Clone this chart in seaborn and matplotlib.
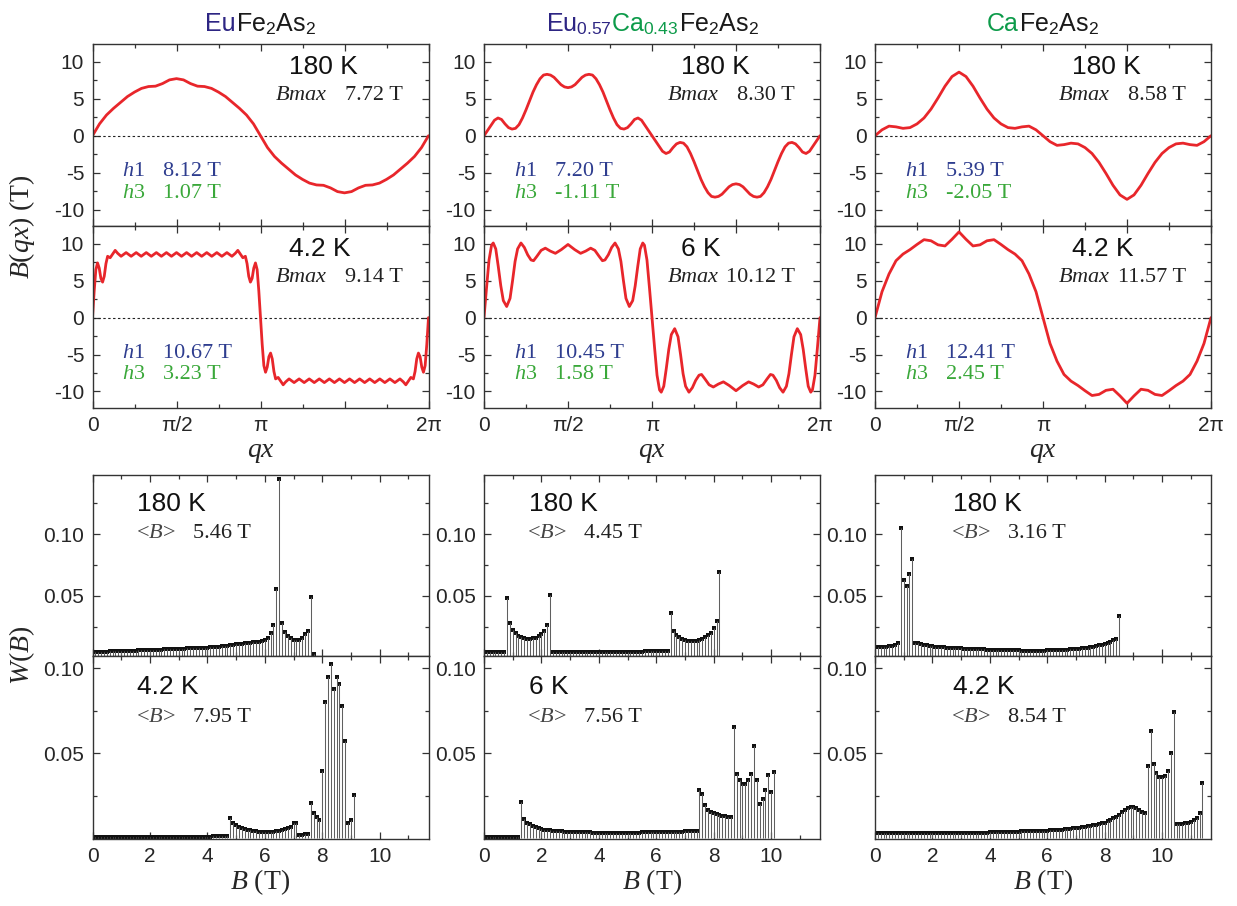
import numpy as np
import matplotlib
matplotlib.use('Agg')
import matplotlib.pyplot as plt
import seaborn as sns
from matplotlib.offsetbox import TextArea, HPacker, AnchoredOffsetbox

# ---------------- data ----------------
# field profiles B(qx), qx in units of pi
qx_24 = np.arange(49) / 24
qx_48 = np.arange(97) / 48
qx_eu_4k_half = [0, .01, .02, .03, .04, .05, .06, .07, .08, .09, .105, .12, .135, .15, .17,
                 .20, .23, .26, .29, .32, .35, .38, .41, .44, .47, .50, .53, .56, .59, .62,
                 .65, .68, .71, .74, .77, .80, .83, .85, .865, .88, .895, .91, .92, .93, .94,
                 .95, .96, .97, .98, .99, 1.0]
qx_mix_6k_half = [0, .015, .03, .045, .055, .07, .085, .10, .115, .135, .155, .17, .185, .20,
                  .22, .24, .26, .28, .295, .315, .34, .365, .395, .425, .46, .50, .54, .575,
                  .605, .635, .66, .685, .705, .72, .74, .76, .78, .80, .815, .83, .845, .865,
                  .885, .90, .915, .93, .945, .955, .97, .985, 1.0]

b_eu_180 = [0.0, 1.6, 2.8, 3.7, 4.5, 5.3, 5.9, 6.4, 6.65, 6.7, 7.05, 7.55, 7.72, 7.55, 7.05,
            6.7, 6.65, 6.4, 5.9, 5.3, 4.5, 3.7, 2.8, 1.6, 0.0, -1.6, -2.8, -3.7, -4.5, -5.3,
            -5.9, -6.4, -6.65, -6.7, -7.05, -7.55, -7.72, -7.55, -7.05, -6.7, -6.65, -6.4,
            -5.9, -5.3, -4.5, -3.7, -2.8, -1.6, 0.0]
b_eu_4k = [0.0, 3.6, 6.5, 7.4, 6.7, 5.3, 4.8, 5.6, 7.3, 8.3, 8.1, 8.6, 9.1, 8.7,
           8.3, 8.8, 8.3, 8.8, 8.3, 8.8, 8.3, 8.8, 8.3, 8.8, 8.3, 8.8, 8.3, 8.8, 8.3, 8.8,
           8.3, 8.8, 8.3, 8.8, 8.3, 8.8, 8.3,
           8.7, 9.1, 8.6, 8.1, 8.3, 7.3, 5.6, 4.8, 5.3, 6.7, 7.4, 6.5, 3.6, 0.0,
           -3.6, -6.5, -7.4, -6.7, -5.3, -4.8, -5.6, -7.3, -8.3, -8.1, -8.6, -9.1, -8.7,
           -8.3, -8.8, -8.3, -8.8, -8.3, -8.8, -8.3, -8.8, -8.3, -8.8, -8.3, -8.8, -8.3,
           -8.8, -8.3, -8.8, -8.3, -8.8, -8.3, -8.8, -8.3, -8.8, -8.3,
           -8.7, -9.1, -8.6, -8.1, -8.3, -7.3, -5.6, -4.8, -5.3, -6.7, -7.4, -6.5, -3.6, 0.0]
b_mix_180 = [0.0, 0.7, 1.4, 2.1, 2.4, 2.2, 1.6, 1.1, 0.9, 1.0, 1.5, 2.4, 3.5, 4.7, 5.9, 6.9,
             7.7, 8.2, 8.3, 8.2, 7.9, 7.4, 6.9, 6.6, 6.5, 6.6, 6.9, 7.4, 7.9, 8.2, 8.3, 8.2,
             7.7, 6.9, 5.9, 4.7, 3.5, 2.4, 1.5, 1.0, 0.9, 1.1, 1.6, 2.2, 2.4, 2.1, 1.4, 0.7,
             0.0, -0.7, -1.4, -2.1, -2.4, -2.2, -1.6, -1.1, -0.9, -1.0, -1.5, -2.4, -3.5,
             -4.7, -5.9, -6.9, -7.7, -8.2, -8.3, -8.2, -7.9, -7.4, -6.9, -6.6, -6.5, -6.6,
             -6.9, -7.4, -7.9, -8.2, -8.3, -8.2, -7.7, -6.9, -5.9, -4.7, -3.5, -2.4, -1.5,
             -1.0, -0.9, -1.1, -1.6, -2.2, -2.4, -2.1, -1.4, -0.7, 0.0]
b_mix_6k = [0.0, 4.0, 7.8, 9.8, 10.1, 9.3, 6.9, 4.3, 2.3, 1.5, 2.6, 5.0, 7.6, 9.3, 10.1, 9.5,
            8.5, 7.8, 7.7, 8.3, 9.1, 9.4, 9.0, 8.7, 9.2, 9.9, 9.2, 8.7, 9.0, 9.4, 9.1, 8.3,
            7.7, 7.8, 8.5, 9.5, 10.1, 9.3, 7.6, 5.0, 2.6, 1.5, 2.3, 4.3, 6.9, 9.3, 10.1, 9.8,
            7.8, 4.0, 0.0,
            -4.0, -7.8, -9.8, -10.1, -9.3, -6.9, -4.3, -2.3, -1.5, -2.6, -5.0, -7.6, -9.3,
            -10.1, -9.5, -8.5, -7.8, -7.7, -8.3, -9.1, -9.4, -9.0, -8.7, -9.2, -9.9, -9.2,
            -8.7, -9.0, -9.4, -9.1, -8.3, -7.7, -7.8, -8.5, -9.5, -10.1, -9.3, -7.6, -5.0,
            -2.6, -1.5, -2.3, -4.3, -6.9, -9.3, -10.1, -9.8, -7.8, -4.0, 0.0]
b_ca_180 = [0.0, 0.8, 1.3, 1.2, 1.0, 1.1, 1.6, 2.4, 3.6, 5.1, 6.7, 8.0, 8.6, 8.0, 6.7, 5.1,
            3.6, 2.4, 1.6, 1.1, 1.0, 1.2, 1.3, 0.8, 0.0, -0.8, -1.3, -1.2, -1.0, -1.1, -1.6,
            -2.4, -3.6, -5.1, -6.7, -8.0, -8.6, -8.0, -6.7, -5.1, -3.6, -2.4, -1.6, -1.1,
            -1.0, -1.2, -1.3, -0.8, 0.0]
b_ca_4k = [0.0, 3.5, 5.9, 7.7, 8.6, 9.2, 9.9, 10.55, 10.4, 9.85, 9.7, 10.6, 11.6, 10.6, 9.7,
           9.85, 10.4, 10.55, 9.9, 9.2, 8.6, 7.7, 5.9, 3.5, 0.0, -3.5, -5.9, -7.7, -8.6,
           -9.2, -9.9, -10.55, -10.4, -9.85, -9.7, -10.6, -11.6, -10.6, -9.7, -9.85, -10.4,
           -10.55, -9.9, -9.2, -8.6, -7.7, -5.9, -3.5, 0.0]

# field distributions W(B), bins of 0.1 T starting at 0
w_eu_180 = [0.0048, 0.0049, 0.0050, 0.0051, 0.0051, 0.0052, 0.0053, 0.0054, 0.0055, 0.0055,
            0.0056, 0.0057, 0.0058, 0.0059, 0.0060, 0.0060, 0.0061, 0.0062, 0.0063, 0.0064,
            0.0065, 0.0066, 0.0067, 0.0067, 0.0068, 0.0069, 0.0070, 0.0071, 0.0072, 0.0073,
            0.0074, 0.0075, 0.0076, 0.0077, 0.0078, 0.0079, 0.0080, 0.0081, 0.0082, 0.0083,
            0.0084, 0.0086, 0.0088, 0.0090, 0.0092, 0.0094, 0.0097, 0.0100, 0.0103, 0.0106,
            0.0109, 0.0112, 0.0115, 0.0117, 0.0120, 0.0123, 0.0126, 0.0129, 0.0132, 0.0138,
            0.0148, 0.0163, 0.0200, 0.0265, 0.0556, 0.1440, 0.0280, 0.0210, 0.0175, 0.0158,
            0.0148, 0.0142, 0.0145, 0.0160, 0.0190, 0.0220, 0.0495, 0.0035]
w_eu_4k = [0.0008, 0.0008, 0.0008, 0.0008, 0.0008, 0.0008, 0.0008, 0.0008, 0.0008, 0.0008,
           0.0008, 0.0008, 0.0008, 0.0008, 0.0008, 0.0008, 0.0008, 0.0008, 0.0008, 0.0008,
           0.0008, 0.0008, 0.0008, 0.0008, 0.0008, 0.0008, 0.0008, 0.0008, 0.0008, 0.0008,
           0.0009, 0.0009, 0.0009, 0.0009, 0.0009, 0.0009, 0.0009, 0.0009, 0.0009, 0.0009,
           0.0010, 0.0010, 0.0011, 0.0011, 0.0012, 0.0012, 0.0013, 0.0013, 0.0118, 0.0093,
           0.0076, 0.0066, 0.0060, 0.0055, 0.0051, 0.0047, 0.0044, 0.0042, 0.0040, 0.0039,
           0.0038, 0.0038, 0.0039, 0.0040, 0.0042, 0.0044, 0.0047, 0.0052, 0.0058, 0.0068,
           0.0093, 0.0090, 0.0022, 0.0022, 0.0023, 0.0023, 0.0206, 0.0150, 0.0125, 0.0110,
           0.0398, 0.0800, 0.0950, 0.1025, 0.0880, 0.0950, 0.0910, 0.0780, 0.0570, 0.0093,
           0.0110, 0.0255]
w_mix_180 = [0.0048, 0.0048, 0.0048, 0.0048, 0.0048, 0.0048, 0.0048, 0.0048, 0.0480, 0.0280,
             0.0225, 0.0198, 0.0180, 0.0168, 0.0160, 0.0156, 0.0155, 0.0158, 0.0165, 0.0178,
             0.0195, 0.0218, 0.0266, 0.0510, 0.0049, 0.0049, 0.0049, 0.0049, 0.0049, 0.0049,
             0.0049, 0.0049, 0.0049, 0.0049, 0.0049, 0.0049, 0.0049, 0.0049, 0.0049, 0.0049,
             0.0049, 0.0049, 0.0049, 0.0049, 0.0049, 0.0050, 0.0050, 0.0050, 0.0050, 0.0050,
             0.0050, 0.0050, 0.0051, 0.0051, 0.0052, 0.0052, 0.0053, 0.0054, 0.0055, 0.0056,
             0.0056, 0.0057, 0.0057, 0.0058, 0.0058, 0.0360, 0.0215, 0.0188, 0.0170, 0.0155,
             0.0145, 0.0140, 0.0137, 0.0137, 0.0140, 0.0145, 0.0155, 0.0168, 0.0185, 0.0200,
             0.0240, 0.0300, 0.0695]
w_mix_6k = [0.0006, 0.0006, 0.0006, 0.0006, 0.0006, 0.0006, 0.0006, 0.0006, 0.0006, 0.0006,
            0.0006, 0.0006, 0.0006, 0.0212, 0.0114, 0.0093, 0.0082, 0.0073, 0.0066, 0.0060,
            0.0055, 0.0051, 0.0048, 0.0046, 0.0044, 0.0043, 0.0042, 0.0041, 0.0040, 0.0039,
            0.0038, 0.0037, 0.0037, 0.0036, 0.0036, 0.0035, 0.0035, 0.0035, 0.0034, 0.0034,
            0.0034, 0.0034, 0.0034, 0.0034, 0.0034, 0.0034, 0.0034, 0.0034, 0.0034, 0.0034,
            0.0034, 0.0034, 0.0034, 0.0034, 0.0034, 0.0035, 0.0035, 0.0035, 0.0035, 0.0036,
            0.0036, 0.0036, 0.0037, 0.0037, 0.0038, 0.0038, 0.0039, 0.0039, 0.0040, 0.0040,
            0.0041, 0.0041, 0.0042, 0.0042, 0.0043, 0.0287, 0.0262, 0.0197, 0.0168, 0.0155,
            0.0147, 0.0141, 0.0136, 0.0132, 0.0130, 0.0128, 0.0128, 0.0657, 0.0380, 0.0340,
            0.0320, 0.0320, 0.0340, 0.0380, 0.0545, 0.0340, 0.0200, 0.0230, 0.0285, 0.0375,
            0.0270, 0.0390]
w_ca_180 = [0.0086, 0.0087, 0.0088, 0.0090, 0.0092, 0.0095, 0.0099, 0.0105, 0.0118, 0.1046,
            0.0630, 0.0582, 0.0680, 0.0800, 0.0121, 0.0117, 0.0112, 0.0107, 0.0103, 0.0099,
            0.0095, 0.0092, 0.0089, 0.0087, 0.0085, 0.0083, 0.0081, 0.0080, 0.0079, 0.0078,
            0.0077, 0.0076, 0.0075, 0.0074, 0.0073, 0.0072, 0.0071, 0.0070, 0.0069, 0.0068,
            0.0067, 0.0066, 0.0065, 0.0064, 0.0064, 0.0063, 0.0063, 0.0062, 0.0062, 0.0061,
            0.0061, 0.0060, 0.0060, 0.0060, 0.0060, 0.0060, 0.0060, 0.0060, 0.0060, 0.0060,
            0.0061, 0.0061, 0.0062, 0.0063, 0.0064, 0.0065, 0.0066, 0.0068, 0.0069, 0.0071,
            0.0073, 0.0075, 0.0078, 0.0081, 0.0084, 0.0088, 0.0092, 0.0097, 0.0102, 0.0108,
            0.0114, 0.0122, 0.0132, 0.0145, 0.0155, 0.0340]
w_ca_4k = [0.0033, 0.0033, 0.0033, 0.0033, 0.0033, 0.0033, 0.0033, 0.0033, 0.0033, 0.0033,
           0.0033, 0.0033, 0.0033, 0.0033, 0.0033, 0.0033, 0.0033, 0.0033, 0.0033, 0.0033,
           0.0034, 0.0034, 0.0034, 0.0034, 0.0034, 0.0034, 0.0034, 0.0034, 0.0034, 0.0034,
           0.0034, 0.0034, 0.0034, 0.0034, 0.0034, 0.0034, 0.0034, 0.0034, 0.0034, 0.0034,
           0.0035, 0.0036, 0.0036, 0.0037, 0.0037, 0.0038, 0.0038, 0.0039, 0.0039, 0.0040,
           0.0040, 0.0041, 0.0041, 0.0042, 0.0042, 0.0043, 0.0043, 0.0044, 0.0044, 0.0045,
           0.0045, 0.0046, 0.0047, 0.0048, 0.0050, 0.0051, 0.0053, 0.0055, 0.0056, 0.0058,
           0.0059, 0.0062, 0.0065, 0.0068, 0.0071, 0.0074, 0.0077, 0.0081, 0.0085, 0.0089,
           0.0093, 0.0100, 0.0108, 0.0118, 0.0128, 0.0140, 0.0155, 0.0168, 0.0177, 0.0184,
           0.0186, 0.0180, 0.0168, 0.0157, 0.0147, 0.0427, 0.0633, 0.0435, 0.0386, 0.0362,
           0.0362, 0.0366, 0.0398, 0.0500, 0.0745, 0.0083, 0.0083, 0.0085, 0.0088, 0.0093,
           0.0098, 0.0108, 0.0122, 0.0148, 0.0328]

# text labels
title_parts = [['Eu', 'Fe$_\\mathsf{2}$As$_\\mathsf{2}$'],
               ['Eu$_\\mathsf{0.57}$', 'Ca$_\\mathsf{0.43}$', 'Fe$_\\mathsf{2}$As$_\\mathsf{2}$'],
               ['Ca', 'Fe$_\\mathsf{2}$As$_\\mathsf{2}$']]
title_colors = [['#2d2583', '#1a1a1a'], ['#2d2583', '#0d9b4a', '#1a1a1a'], ['#0d9b4a', '#1a1a1a']]
temps = [['180 K', '4.2 K'], ['180 K', '6 K'], ['180 K', '4.2 K']]
bmax = [['7.72 T', '9.14 T'], ['8.30 T', '10.12 T'], ['8.58 T', '11.57 T']]
h1 = [['8.12 T', '10.67 T'], ['7.20 T', '10.45 T'], ['5.39 T', '12.41 T']]
h3 = [['1.07 T', '3.23 T'], ['-1.11 T', '1.58 T'], ['-2.05 T', '2.45 T']]
mean_b = [['5.46 T', '7.95 T'], ['4.45 T', '7.56 T'], ['3.16 T', '8.54 T']]

profiles = [[(qx_24, b_eu_180), (np.concatenate([qx_eu_4k_half, 1 + np.array(qx_eu_4k_half[1:])]), b_eu_4k)],
            [(qx_48, b_mix_180), (np.concatenate([qx_mix_6k_half, 1 + np.array(qx_mix_6k_half[1:])]), b_mix_6k)],
            [(qx_24, b_ca_180), (qx_24, b_ca_4k)]]
spectra = [[w_eu_180, w_eu_4k], [w_mix_180, w_mix_6k], [w_ca_180, w_ca_4k]]

# ---------------- style ----------------
sns.set_theme(style='ticks')
plt.rcParams.update({
    'font.family': ['Liberation Sans', 'DejaVu Sans'],
    'mathtext.fontset': 'custom',
    'mathtext.rm': 'Liberation Serif',
    'mathtext.it': 'Liberation Serif:italic',
    'mathtext.sf': 'Liberation Sans',
    'axes.unicode_minus': False,
    'axes.linewidth': 1.0,
    'axes.edgecolor': '#333333',
    'axes.facecolor': 'white',
})

RED = '#e8262b'
H1_COL = '#2e3d8f'
H3_COL = '#3aa83a'
SERIF = 'Liberation Serif'

FW, FH = 1237, 906
fig = plt.figure(figsize=(FW / 100, FH / 100), dpi=100)


def frac(x0, y0, x1, y1):
    return [x0 / FW, 1 - y1 / FH, (x1 - x0) / FW, (y1 - y0) / FH]


def style_ticks(ax):
    ax.tick_params(which='both', direction='in', top=True, right=True,
                   color='#333333', width=0.9, labelsize=15, pad=6)
    ax.tick_params(which='major', length=5)
    ax.tick_params(which='minor', length=2.8)


col_left = [92.5, 484, 875]
col_w = 336

for c in range(3):
    l = col_left[c]
    # ---- B(qx) profiles ----
    top_boxes = [(44, 226), (226, 407.7)]
    for r in range(2):
        ax = fig.add_axes(frac(l, top_boxes[r][0], l + col_w, top_boxes[r][1]))
        x, y = profiles[c][r]
        ax.axhline(0, color='#222222', lw=0.8, ls=(0, (2.2, 2.2)))
        sns.lineplot(x=np.asarray(x) * np.pi, y=y, ax=ax, color=RED, lw=2.0, estimator=None)
        ax.set_xlim(0, 2 * np.pi)
        ax.set_ylim(-12.2, 12.4)
        ax.set_xticks([0, np.pi / 2, np.pi, 1.5 * np.pi, 2 * np.pi])
        ax.set_xticks([np.pi / 4, 3 * np.pi / 4, 5 * np.pi / 4, 7 * np.pi / 4], minor=True)
        ax.set_yticks([-10, -5, 0, 5, 10])
        ax.set_yticks([-7.5, -2.5, 2.5, 7.5], minor=True)
        style_ticks(ax)
        if r == 0:
            ax.tick_params(labelbottom=False)
        else:
            ax.set_xticklabels(['0', 'π/2', 'π', '', '2π'])
            ax.set_xlabel('$qx$', fontsize=20, labelpad=3)
        ax.set_ylabel('')
        ax.text(0.585, 0.875, temps[c][r], transform=ax.transAxes, fontsize=19,
                ha='left', va='center', color='#111111')
        ax.text(0.70, 0.715, '$Bmax$', transform=ax.transAxes, fontsize=16,
                ha='right', va='center', color='#222222', family=SERIF)
        ax.text(0.925, 0.715, bmax[c][r], transform=ax.transAxes, fontsize=16,
                ha='right', va='center', color='#222222', family=SERIF)
        ax.text(0.088, 0.30, '$h$1', transform=ax.transAxes, fontsize=16,
                ha='left', va='center', color=H1_COL, family=SERIF)
        ax.text(0.21, 0.30, h1[c][r], transform=ax.transAxes, fontsize=16,
                ha='left', va='center', color=H1_COL, family=SERIF)
        ax.text(0.088, 0.18, '$h$3', transform=ax.transAxes, fontsize=16,
                ha='left', va='center', color=H3_COL, family=SERIF)
        ax.text(0.21, 0.18, h3[c][r], transform=ax.transAxes, fontsize=16,
                ha='left', va='center', color=H3_COL, family=SERIF)
        if r == 0:
            parts = [TextArea(s, textprops=dict(color=col, fontsize=18, family='Liberation Sans'))
                     for s, col in zip(title_parts[c], title_colors[c])]
            pack = HPacker(children=parts, align='baseline', pad=0, sep=0)
            box = AnchoredOffsetbox(loc='lower center', child=pack, pad=0, borderpad=0,
                                    frameon=False, bbox_to_anchor=(0.5, 1.04),
                                    bbox_transform=ax.transAxes)
            ax.add_artist(box)

    # ---- W(B) distributions ----
    bot_boxes = [(475, 656), (656, 839)]
    ylims = [(0.0016, 0.1476), (-0.0004, 0.1072)]
    tx = 0.133 if c < 2 else 0.232
    for r in range(2):
        ax = fig.add_axes(frac(l, bot_boxes[r][0], l + col_w, bot_boxes[r][1]))
        w = np.array(spectra[c][r])
        b = np.arange(len(w)) * 0.1
        ax.vlines(b, 0, w, colors='#5f5f5f', lw=0.75)
        sns.scatterplot(x=b, y=w, ax=ax, marker='s', s=7, color='#111111',
                        linewidth=0, legend=False)
        ax.set_xlim(0, 11.7)
        ax.set_ylim(*ylims[r])
        ax.set_xticks([0, 2, 4, 6, 8, 10])
        ax.set_xticks([1, 3, 5, 7, 9, 11], minor=True)
        ax.set_yticks([0.05, 0.10])
        ax.set_yticklabels(['0.05', '0.10'])
        ax.set_yticks([0.025, 0.075, 0.125] if r == 0 else [0.025, 0.075], minor=True)
        style_ticks(ax)
        if r == 0:
            ax.tick_params(labelbottom=False)
        else:
            ax.set_xlabel('$B$ (T)', fontsize=20, family=SERIF, labelpad=1)
        ax.set_ylabel('')
        ty = 0.84 if r == 0 else 0.83
        ax.text(tx, ty, temps[c][r], transform=ax.transAxes, fontsize=19,
                ha='left', va='center', color='#111111')
        ax.text(tx - 0.005, ty - 0.165, '<$B$>', transform=ax.transAxes, fontsize=16,
                ha='left', va='center', color='#444444', family=SERIF)
        ax.text(tx + 0.165, ty - 0.165, mean_b[c][r], transform=ax.transAxes, fontsize=16,
                ha='left', va='center', color='#222222', family=SERIF)

fig.text(22 / FW, 1 - 227 / FH, '$B(qx)$ (T)', rotation=90, fontsize=20, family=SERIF,
         ha='center', va='center')
fig.text(22 / FW, 1 - 655 / FH, '$W(B)$', rotation=90, fontsize=20, family=SERIF,
         ha='center', va='center')

fig.savefig('out.png', dpi=100)
